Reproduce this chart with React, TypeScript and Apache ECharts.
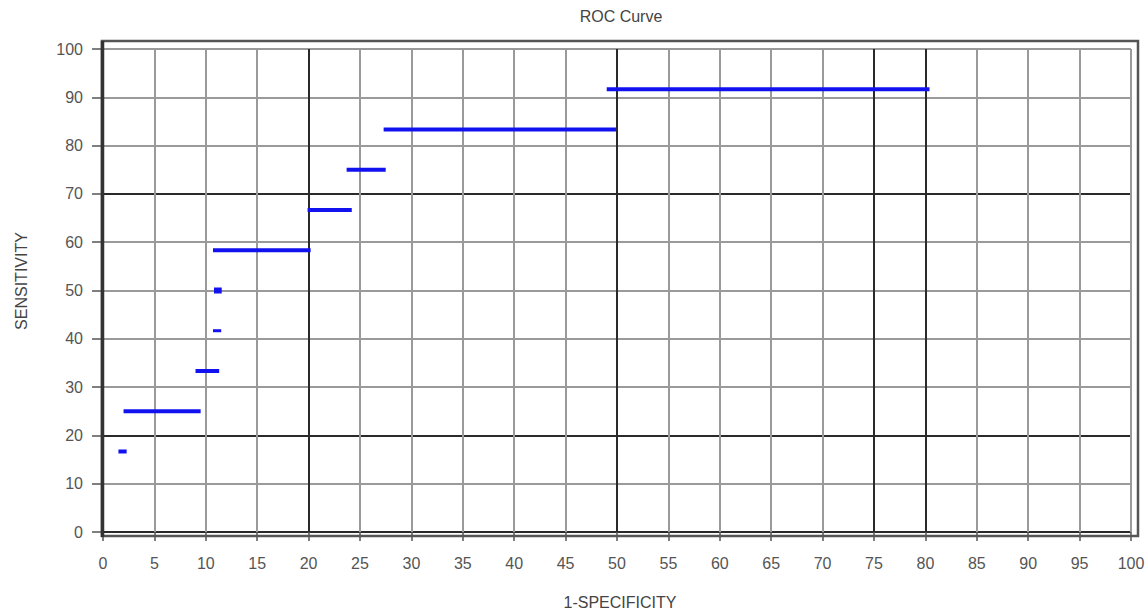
import React, { useEffect, useRef } from "react";
import * as echarts from "echarts";

// ROC step segments: sensitivity level and 1-specificity span
const sensitivity = [16.67, 25, 33.33, 41.67, 50, 58.33, 66.67, 75, 83.33, 91.67];
const fprFrom = [1.5, 2.0, 9.0, 10.7, 10.8, 10.7, 19.9, 23.7, 27.3, 49.0];
const fprTo = [2.3, 9.5, 11.3, 11.5, 11.55, 20.2, 24.2, 27.5, 49.9, 80.4];

const xTicks = Array.from({ length: 21 }, (_, i) => i * 5);
const yTicks = Array.from({ length: 11 }, (_, i) => i * 10);
const xDarkLines = [20, 50, 75, 80];
const yDarkLines = [0, 20, 70];

const titleText = "ROC Curve";
const xName = "1-SPECIFICITY";
const yName = "SENSITIVITY";

export default function App() {
  const ref = useRef<HTMLDivElement>(null);
  useEffect(() => {
    if (!ref.current) return;
    const chart = echarts.init(ref.current, null, { renderer: "svg" });
    const gray = "#9a9a9a";
    const dark = "#2a2a2a";
    const xColors = xTicks.map((v) => (xDarkLines.includes(v) ? dark : gray));
    const yColors = yTicks.map((v) => (yDarkLines.includes(v) ? dark : gray));
    const font = "'Liberation Sans', Arial, sans-serif";

    const series = sensitivity.map((s, i) => ({
      type: "line",
      name: "seg" + i,
      data: [
        [fprFrom[i], s],
        [fprTo[i], s],
      ],
      symbol: "none",
      lineStyle: { color: "#1212f0", width: i === 4 ? 6 : i === 3 ? 3 : 4, cap: "butt" },
      silent: true,
    }));

    chart.setOption({
      animation: false,
      grid: { left: 103, right: 17, top: 49, bottom: 81 },
      xAxis: {
        type: "value",
        min: 0,
        max: 100,
        interval: 5,
        offset: 4,
        axisLine: { show: false },
        axisTick: { show: true, length: 9, lineStyle: { color: "#555", width: 1.5 } },
        axisLabel: { margin: 19, fontSize: 16, color: "#555", fontFamily: font },
        splitLine: { show: true, lineStyle: { color: xColors, width: 2 } },
      },
      yAxis: {
        type: "value",
        min: 0,
        max: 100,
        interval: 10,
        axisLine: { show: false },
        axisTick: { show: true, length: 11, lineStyle: { color: "#555", width: 1.5 } },
        axisLabel: { margin: 20, fontSize: 16, color: "#555", fontFamily: font },
        splitLine: { show: true, lineStyle: { color: yColors, width: 2 } },
      },
      graphic: [
        {
          type: "rect",
          shape: { x: 102, y: 41, width: 1036, height: 495 },
          style: { fill: "none", stroke: "#555", lineWidth: 2.5 },
          z: 100,
        },
        {
          type: "line",
          shape: { x1: 102.5, y1: 41, x2: 102.5, y2: 537 },
          style: { stroke: "#333", lineWidth: 3.5 },
          z: 100,
        },
        {
          type: "text",
          x: 621,
          y: 16,
          style: {
            text: titleText,
            fontSize: 16,
            fill: "#444",
            font: "16px " + font,
            textAlign: "center",
            textVerticalAlign: "middle",
          },
        },
        {
          type: "text",
          x: 620,
          y: 602,
          style: {
            text: xName,
            fill: "#444",
            font: "16px " + font,
            textAlign: "center",
            textVerticalAlign: "middle",
          },
        },
        {
          type: "text",
          x: 21,
          y: 281,
          rotation: Math.PI / 2,
          style: {
            text: yName,
            fill: "#444",
            font: "16px " + font,
            textAlign: "center",
            textVerticalAlign: "middle",
          },
        },
      ],
      series,
    });
    return () => chart.dispose();
  }, []);
  return (
    <div
      ref={ref}
      style={{ position: "fixed", left: 0, top: 0, width: 1148, height: 613, background: "#fff" }}
    />
  );
}
